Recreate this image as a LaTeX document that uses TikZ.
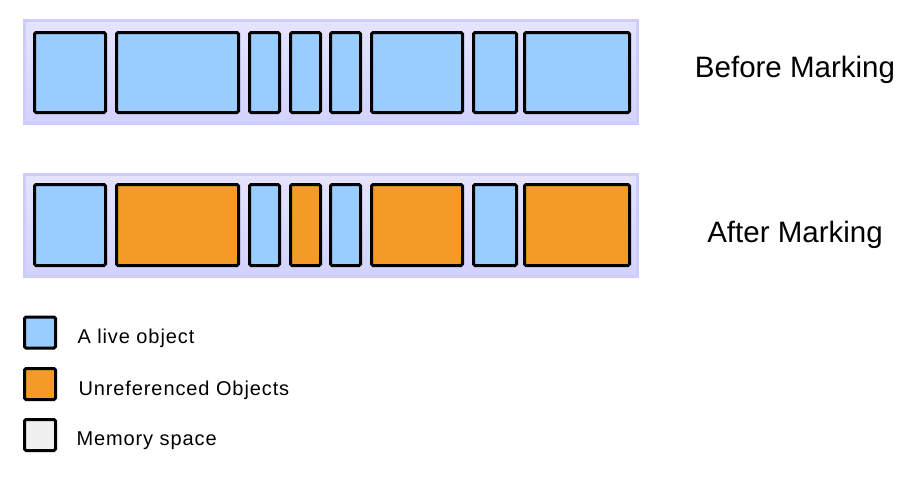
\documentclass[tikz,border=0pt]{standalone}
\usepackage{fontspec}
\setmainfont{Liberation Sans}
\usetikzlibrary{positioning}
\definecolor{live}{HTML}{99CCFF}
\definecolor{unref}{HTML}{F39B24}
\definecolor{memory}{HTML}{F0F0F0}
\definecolor{heaptop}{HTML}{E4E4FF}
\definecolor{heapbottom}{HTML}{D2D2FF}
\definecolor{heapline}{HTML}{CCCCFF}

\begin{document}
\begin{tikzpicture}[x=1pt, y=-1pt,
  heap/.style={draw=heapline, line width=3pt, top color=heaptop, bottom color=heapbottom},
  obj/.style={draw=black, line width=3pt, rounded corners=1.5pt},
  title/.style={font=\fontsize{29.5}{34}\selectfont, anchor=base},
  key/.style={font=\fontsize{20}{24}\selectfont\addfontfeatures{LetterSpace=4.5}, anchor=base west}]
\useasboundingbox (0,0) rectangle (915,480);

% memory before and after marking
\filldraw[heap] (24.5,20.5) rectangle (637.5,123.5);
\filldraw[heap] (24.5,174.5) rectangle (637.5,276.5);

\foreach \l/\r/\c in {33/107/live, 115/240/unref, 248/281/live, 289/322/unref,
                      329/362/live, 370/464/unref, 472/518/live, 523/631/unref}{
  \filldraw[obj, fill=live] (\l+1.5,32.5) rectangle (\r-1.5,112.5);
  \filldraw[obj, fill=\c] (\l+1.5,184.5) rectangle (\r-1.5,265.5);
}

\node[title] (before) at (795,77) {Before Marking};
\node[title] (after) at (795,242) {After Marking};

% legend
\node(keylive)[obj, fill=live, minimum size=31pt, inner sep=0pt] at (40,332.5) {};
\node(keyunref)[obj, fill=unref, minimum size=31pt, inner sep=0pt] at (40,384) {};
\node(keymemory)[obj, fill=memory, minimum size=31pt, inner sep=0pt] at (40,435) {};

\node(keylivetext)[key] at (74,343) {A live object};
\node(keyunreftext)[key] at (75,395) {Unreferenced Objects};
\node(keymemorytext)[key] at (73,445) {Memory space};
\end{tikzpicture}
\end{document}
